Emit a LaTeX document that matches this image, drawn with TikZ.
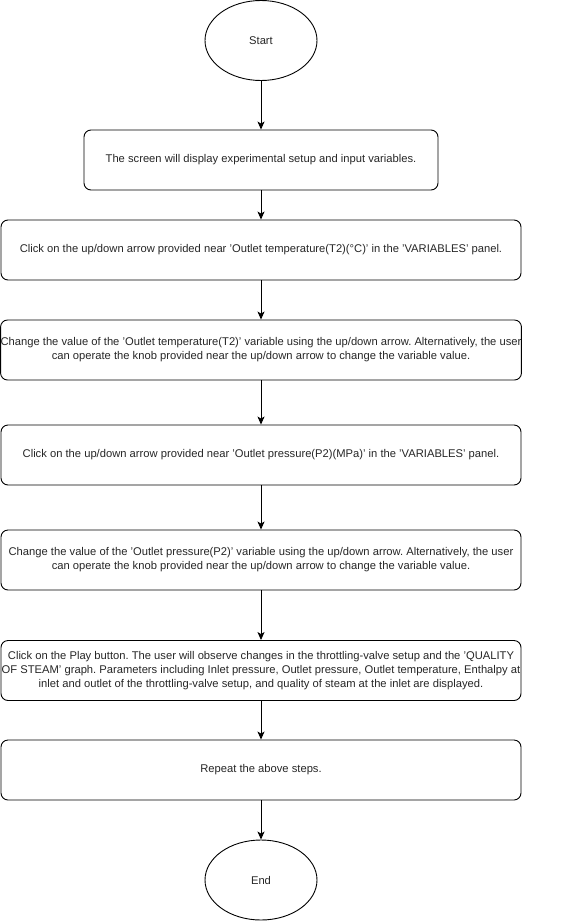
\documentclass[tikz,border=0pt]{standalone}
\usepackage{fontspec}
\setmainfont{Liberation Sans}
\usetikzlibrary{arrows.meta,shapes.geometric}
\begin{document}
\frenchspacing
\begin{tikzpicture}[x=1pt,y=-1pt,
  every node/.style={font=\fontsize{11.2}{14}\selectfont, text=black!85},
  term/.style={draw, ellipse, line width=0.9pt, minimum width=112pt, minimum height=80pt, inner sep=0pt},
  procbox/.style={draw, rounded corners=7pt, line width=0.9pt, minimum height=60pt, align=center, inner sep=0pt},
  conn/.style={draw, line width=0.9pt, -{Stealth[length=8pt,width=7pt,inset=2pt]}}]
\useasboundingbox (0,0) rectangle (561,921);
\node[term] (start) at (261,40.5) {Start};
\node[procbox, minimum width=354pt] (b1) at (261,160) {The screen will display experimental setup and input variables.};
\node[procbox, minimum width=520pt] (b2) at (261,250) {Click on the up/down arrow provided near 'Outlet temperature(T2)(°C)' in the 'VARIABLES' panel.};
\node[procbox, minimum width=520pt] (b3) at (261,350) {Change the value of the 'Outlet temperature(T2)' variable using the up/down arrow. Alternatively, the user\\can operate the knob provided near the up/down arrow to change the variable value.};
\node[procbox, minimum width=520pt] (b4) at (261,455) {Click on the up/down arrow provided near 'Outlet pressure(P2)(MPa)' in the 'VARIABLES' panel.};
\node[procbox, minimum width=520pt] (b5) at (261,560) {Change the value of the 'Outlet pressure(P2)' variable using the up/down arrow. Alternatively, the user\\can operate the knob provided near the up/down arrow to change the variable value.};
\node[procbox, minimum width=520pt] (b6) at (261,670.5) {Click on the Play button. The user will observe changes in the throttling-valve setup and the 'QUALITY\\OF STEAM' graph. Parameters including Inlet pressure, Outlet pressure, Outlet temperature, Enthalpy at\\inlet and outlet of the throttling-valve setup, and quality of steam at the inlet are displayed.};
\node[procbox, minimum width=520pt] (b7) at (261,770) {Repeat the above steps.};
\node[term] (end) at (261,880) {End};
\draw[conn] (start) -- (b1);
\draw[conn] (b1) -- (b2);
\draw[conn] (b2) -- (b3);
\draw[conn] (b3) -- (b4);
\draw[conn] (b4) -- (b5);
\draw[conn] (b5) -- (b6);
\draw[conn] (b6) -- (b7);
\draw[conn] (b7) -- (end);
\end{tikzpicture}
\end{document}
